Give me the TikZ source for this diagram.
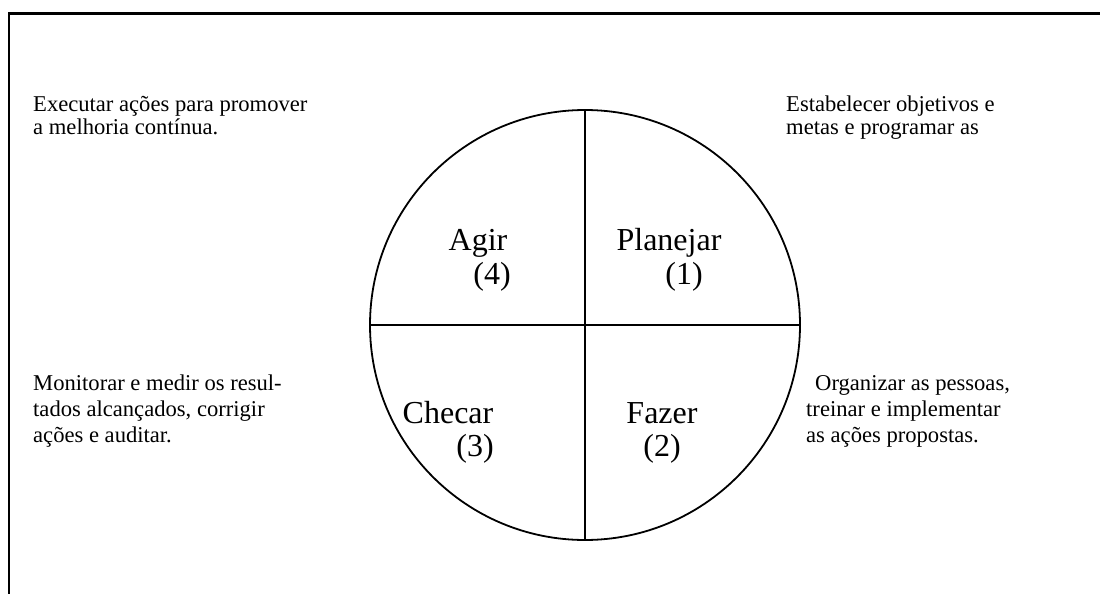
\documentclass[tikz,border=0pt]{standalone}
\usepackage{fontspec}
\setmainfont{Liberation Serif}
\begin{document}
\begin{tikzpicture}[x=1pt,y=-1pt,
  frame/.style={line width=2.2pt},
  ring/.style={line width=1.8pt},
  note/.style={anchor=base west,inner sep=0pt,font=\fontsize{22.6}{26}\selectfont},
  phase/.style={anchor=base,inner sep=0pt,font=\fontsize{32}{36}\selectfont}]
\useasboundingbox (0,0) rectangle (1100,594);
% outer frame (only left and top edges fall inside the page)
\draw[frame] (9,600) -- (9,13.5) -- (1105,13.5);
% PDCA circle split into quadrants
\coordinate (c) at (585,325);
\draw[ring] (c) circle[radius=215];
\draw[ring] (585,110) -- (585,540);
\draw[ring] (370,325) -- (800,325);
% quadrant labels
\node[phase] (agir) at (478,250) {Agir};
\node[phase] (agirn) at (492,284) {(4)};
\node[phase] (plan) at (669,250) {Planejar};
\node[phase] (plann) at (684,284) {(1)};
\node[phase] (chec) at (448,423) {Checar};
\node[phase] (checn) at (475,456) {(3)};
\node[phase] (faz) at (662,423) {Fazer};
\node[phase] (fazn) at (662,456) {(2)};
% descriptions
\node[note] (a1) at (33,111) {Executar ações para promover};
\node[note] (a2) at (33,134) {a melhoria contínua.};
\node[note] (p1) at (786,111) {Estabelecer objetivos e};
\node[note] (p2) at (786,134) {metas e programar as};
\node[note] (c1) at (33,390) {Monitorar e medir os resul-};
\node[note] (c2) at (33,416) {tados alcançados, corrigir};
\node[note] (c3) at (33,442) {ações e auditar.};
\node[note] (f1) at (815,390) {Organizar as pessoas,};
\node[note] (f2) at (806,416) {treinar e implementar};
\node[note] (f3) at (806,442) {as ações propostas.};
\end{tikzpicture}
\end{document}
